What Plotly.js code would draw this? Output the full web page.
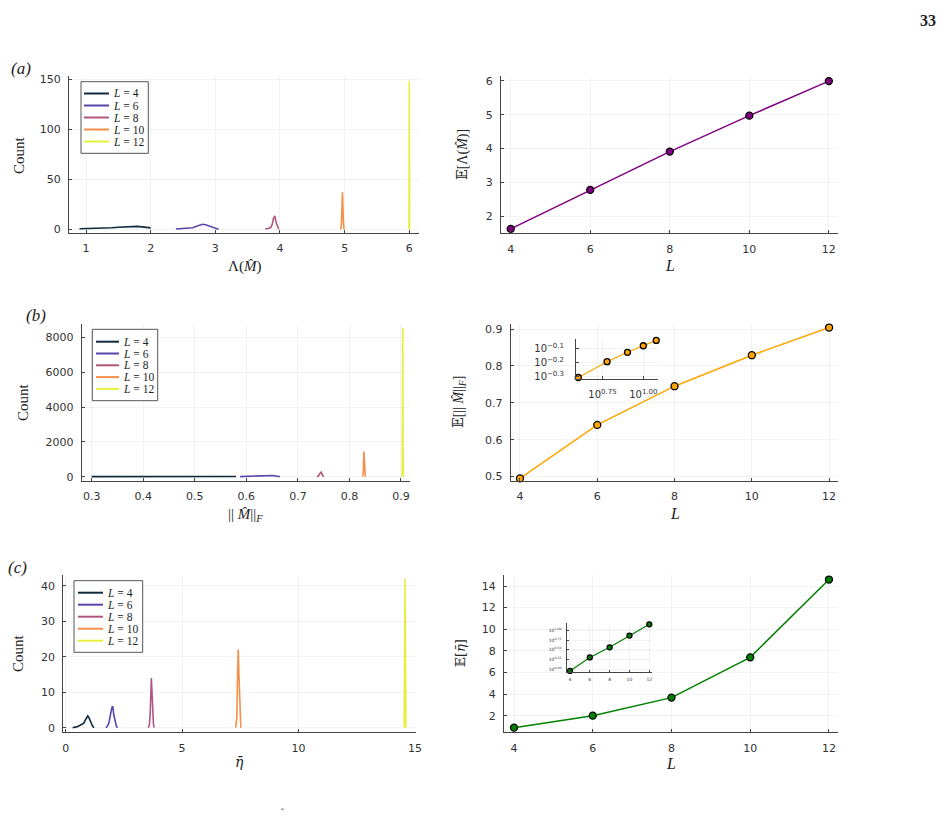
<!DOCTYPE html>
<html><head><meta charset="utf-8">
<script src="https://cdn.plot.ly/plotly-3.0.1.min.js"></script>
<style>html,body{margin:0;padding:0;background:#fff}#plot{width:945px;height:820px}</style>
</head><body><div id="plot"></div>
<script>
// ---------- data ----------
const Ls = [4, 6, 8, 10, 12];
const histColors = ['#0f2a3c', '#5b45ad', '#b1577f', '#f68f4a', '#e6f03c'];

// (a) distributions of Lambda(M) (bin positions, density values)
const a_x4 = [0.9,1.0,1.1,1.2,1.3,1.4,1.5,1.6,1.7,1.75,1.8,1.9,2.0];
const a_y4 = [0.5,0.6,0.8,1.0,1.3,1.6,2.0,2.4,2.9,3.1,2.9,2.2,1.4];
const a_x6 = [2.39,2.5,2.6,2.65,2.7,2.75,2.8,2.85,2.9,2.95,3.0,3.05];
const a_y6 = [0.3,0.5,0.8,1.5,2.8,4.2,5.0,4.6,3.5,2.0,0.8,0.1];
const a_x8 = [3.77,3.82,3.86,3.88,3.90,3.92,3.94,3.96,3.98];
const a_y8 = [0.5,0.8,2,5,11,13.5,7,2,0];
const a_x10 = [4.94,4.95,4.96,4.965,4.97,4.98,4.99];
const a_y10 = [0,5,25,37,30,8,0];
const a_x12 = [5.995,5.998,6.0,6.002,6.004];
const a_y12 = [0,60,148,80,0];

// (b) distributions of ||M||_F
const b_x4 = [0.30,0.35,0.40,0.45,0.50,0.55,0.58];
const b_y4 = [3,5,8,12,15,15,10];
const b_x6 = [0.588,0.60,0.615,0.63,0.64,0.65,0.66,0.665];
const b_y6 = [5,15,40,75,90,70,25,5];
const b_x8 = [0.737,0.740,0.743,0.745,0.747,0.750];
const b_y8 = [0,50,200,260,120,0];
const b_x10 = [0.826,0.827,0.828,0.829,0.830,0.831];
const b_y10 = [0,300,1450,900,100,0];
const b_x12 = [0.9025,0.903,0.9035,0.904,0.9045];
const b_y12 = [0,3000,8550,2000,0];

// (c) distributions of eta
const c_x4 = [0.30,0.40,0.50,0.60,0.70,0.78,0.85,0.90,0.95,1.00,1.05,1.10,1.15,1.22];
const c_y4 = [0,0.1,0.3,0.6,1.0,1.3,2.2,3.0,3.3,2.8,2.0,1.2,0.5,0];
const c_x6 = [1.73,1.80,1.85,1.90,1.95,2.00,2.03,2.07,2.12,2.18,2.23];
const c_y6 = [0,0.5,1.2,2.5,4.5,6.0,5.8,3.5,1.5,0.4,0];
const c_x8 = [3.55,3.60,3.63,3.66,3.68,3.70,3.73,3.77,3.80];
const c_y8 = [0,1,4,11,14,11,4,1,0];
const c_x10 = [7.30,7.35,7.38,7.41,7.44,7.48,7.52];
const c_y10 = [0,3,15,22,15,3,0];
const c_x12 = [14.53,14.55,14.57,14.59,14.61];
const c_y12 = [0,15,42,20,0];

// means vs L
const meanLambda = [1.63, 2.78, 3.91, 4.97, 5.99];
const meanNorm = [0.495, 0.640, 0.745, 0.829, 0.904];
const meanEta = [0.89, 2.0, 3.67, 7.4, 14.6];

// tick labels
const insetBXticks = ['10<sup>0.75</sup>', '10<sup>1.00</sup>'];
const insetBYticks = ['10<sup>−0.3</sup>', '10<sup>−0.2</sup>', '10<sup>−0.1</sup>'];
const insetCYticks = ['10<sup>0.00</sup>', '10<sup>0.25</sup>', '10<sup>0.50</sup>', '10<sup>0.75</sup>', '10<sup>1.00</sup>'];

// ---------- helpers ----------
const W = 945, H = 820;
const px = x => x / W;
const py = y => 1 - y / H;
const dx = (a, b) => [px(a), px(b)];
const dy = (top, bot) => [py(bot), py(top)];

const tickFont = {family: 'DejaVu Sans, sans-serif', size: 11, color: '#333'};
const serif = 'Liberation Serif, DejaVu Serif, serif';

function ax(domain, range, anchor, extra) {
  return Object.assign({
    domain: domain, range: range, anchor: anchor,
    showline: true, linecolor: '#444', linewidth: 1,
    ticks: 'inside', ticklen: 3, tickcolor: '#444', tickwidth: 1,
    showgrid: true, gridcolor: 'rgba(0,0,0,0.08)', gridwidth: 0.6,
    zeroline: false, tickfont: tickFont, ticklabelstandoff: 5,
    fixedrange: true
  }, extra || {});
}

const traces = [];
function addHist(xs, ys, xa, ya, w) {
  xs.forEach((x, i) => {
    traces.push({type: 'scatter', mode: 'lines', x: x, y: ys[i], xaxis: xa, yaxis: ya,
      line: {color: histColors[i], width: w || 1.6}, showlegend: false, hoverinfo: 'skip'});
  });
}
addHist([a_x4, a_x6, a_x8, a_x10, a_x12], [a_y4, a_y6, a_y8, a_y10, a_y12], 'x', 'y');
addHist([b_x4, b_x6, b_x8, b_x10, b_x12], [b_y4, b_y6, b_y8, b_y10, b_y12], 'x3', 'y3');
addHist([c_x4, c_x6, c_x8, c_x10, c_x12], [c_y4, c_y6, c_y8, c_y10, c_y12], 'x6', 'y6');

function addMean(y, color, xa, ya, msize, lw) {
  traces.push({type: 'scatter', mode: 'lines+markers', x: Ls, y: y, xaxis: xa, yaxis: ya,
    line: {color: color, width: lw || 1.5},
    marker: {color: color, size: msize || 7, line: {color: '#000', width: 1.3}},
    showlegend: false, cliponaxis: false});
}
addMean(meanLambda, '#800080', 'x2', 'y2');
addMean(meanNorm, '#ffa500', 'x4', 'y4');
addMean(meanNorm, '#ffa500', 'x5', 'y5', 6, 1.2);
addMean(meanEta, '#008000', 'x7', 'y7');
addMean(meanEta, '#008000', 'x8', 'y8', 5, 1.2);

const insetFontB = {family: 'DejaVu Sans, sans-serif', size: 10, color: '#333'};
const insetFontC = {family: 'DejaVu Sans, sans-serif', size: 4.5, color: '#333'};

// ---------- layout ----------
const layout = {
  width: W, height: H, margin: {l: 0, r: 0, t: 0, b: 0},
  paper_bgcolor: '#fff', plot_bgcolor: 'rgba(0,0,0,0)', showlegend: false,
  xaxis: ax(dx(69, 419), [0.737, 6.15], 'y', {tickvals: [1,2,3,4,5,6]}),
  yaxis: ax(dy(76, 233), [-3.7, 153.3], 'x', {tickvals: [0,50,100,150]}),
  xaxis2: ax(dx(501, 838), [3.756, 12.23], 'y2', {tickvals: [4,6,8,10,12]}),
  yaxis2: ax(dy(75.7, 233.3), [1.5, 6.15], 'x2', {tickvals: [2,3,4,5,6]}),
  xaxis3: ax(dx(81.7, 410), [0.2806, 0.9175], 'y3', {tickvals: [0.3,0.4,0.5,0.6,0.7,0.8,0.9]}),
  yaxis3: ax(dy(324, 481), [-247, 8763], 'x3', {tickvals: [0,2000,4000,6000,8000], tickformat: 'd'}),
  xaxis4: ax(dx(510.7, 838), [3.76, 12.23], 'y4', {tickvals: [4,6,8,10,12]}),
  yaxis4: ax(dy(324, 481), [0.488, 0.9136], 'x4', {tickvals: [0.5,0.6,0.7,0.8,0.9]}),
  xaxis5: ax(dx(576, 658), [0.588, 1.09], 'y5', {type: 'log', tickvals: [Math.pow(10,0.75), 10], ticktext: insetBXticks,
          tickfont: insetFontB, ticklabelstandoff: 6}),
  yaxis5: ax(dy(339, 379), [-0.316, -0.034], 'x5', {type: 'log', tickvals: [Math.pow(10,-0.3), Math.pow(10,-0.2), Math.pow(10,-0.1)], ticktext: insetBYticks,
          tickfont: insetFontB, ticklabelstandoff: 9}),
  xaxis6: ax(dx(63.3, 416), [-0.1, 15.04], 'y6', {tickvals: [0,5,10,15]}),
  yaxis6: ax(dy(575, 732.3), [-1.3, 43.0], 'x6', {tickvals: [0,10,20,30,40]}),
  xaxis7: ax(dx(504, 838), [3.746, 12.23], 'y7', {tickvals: [4,6,8,10,12]}),
  yaxis7: ax(dy(575, 732.3), [0.46, 15.02], 'x7', {tickvals: [2,4,6,8,10,12,14]}),
  xaxis8: ax(dx(567.3, 651.7), [3.73, 12.24], 'y8', {tickvals: [4,6,8,10,12],
          tickfont: insetFontC, ticklen: 2, ticklabelstandoff: 3}),
  yaxis8: ax(dy(623.3, 671.7), [-0.07, 1.19], 'x8', {type: 'log', tickvals: [1, Math.pow(10,0.25), Math.pow(10,0.5), Math.pow(10,0.75), 10], ticktext: insetCYticks,
          tickfont: insetFontC, ticklen: 2, ticklabelstandoff: 4}),
  shapes: [], annotations: []
};

function ann(text, x, y, size, opts, family) {
  layout.annotations.push(Object.assign({text: text, x: px(x), y: py(y), xref: 'paper', yref: 'paper',
    showarrow: false, xanchor: 'center', yanchor: 'middle',
    font: {family: family || serif, size: size, color: '#222'}}, opts || {}));
}

// panel labels and page number
ann('<i>(a)</i>', 21, 69, 17);
ann('<i>(b)</i>', 36, 315, 17);
ann('<i>(c)</i>', 17, 567, 17);
ann('<b>33</b>', 928, 20, 16);
ann('ˆ', 282, 812, 9);

// axis titles
const dvs = 'DejaVu Serif, serif';
ann('Count', 19, 155, 15, {textangle: -90});
ann('𝔼[Λ(<i>M̂</i>)]', 463, 155, 14, {textangle: -90});
ann('Λ(<i>M̂</i>)', 244, 266, 15);
ann('<i>L</i>', 670, 265, 16);
ann('Count', 23, 402, 15, {textangle: -90});
ann('𝔼[|| <i>M̂</i>||<sub><i>F</i></sub>]', 459, 402, 14, {textangle: -90});
ann('|| <i>M̂</i>||<sub><i>F</i></sub>', 245, 515, 15);
ann('<i>L</i>', 675, 513, 16);
ann('Count', 18, 653, 15, {textangle: -90});
ann('𝔼[<i>η̄</i>]', 460, 653, 13, {textangle: -90}, dvs);
ann('<i>η̄</i>', 239, 762, 14, {}, dvs);
ann('<i>L</i>', 671, 763, 16);

// custom legends
function legend(box, firstY, step, lineX0, lineX1, textX) {
  layout.shapes.push({type: 'rect', xref: 'paper', yref: 'paper',
    x0: px(box[0]), x1: px(box[1]), y0: py(box[3]), y1: py(box[2]),
    line: {color: '#555', width: 1}, fillcolor: '#fff', layer: 'above'});
  Ls.forEach((L, i) => {
    const y = firstY + step * i;
    layout.shapes.push({type: 'line', xref: 'paper', yref: 'paper',
      x0: px(lineX0), x1: px(lineX1), y0: py(y), y1: py(y),
      line: {color: histColors[i], width: 2}, layer: 'above'});
    ann('<i>L</i> = ' + L, textX, y, 11.5, {xanchor: 'left'});
  });
}
legend([81, 148.3, 81.7, 153.3], 93.5, 12, 84, 109, 111);
legend([92.3, 157.7, 329.3, 400.7], 341.7, 11.8, 96, 119, 121);
legend([74, 142.7, 580.7, 652.3], 592.7, 12, 78, 103, 105);

Plotly.newPlot('plot', traces, layout, {staticPlot: true, displayModeBar: false});
</script></body></html>
